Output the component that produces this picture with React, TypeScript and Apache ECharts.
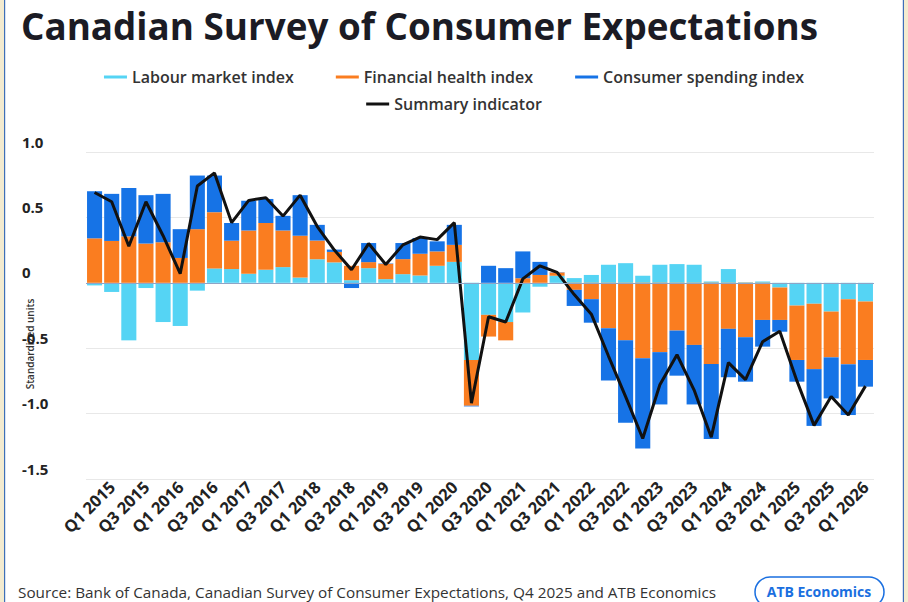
import React, { useEffect, useRef } from "react";
import * as echarts from "echarts";

const quarters = [
  "Q4 2014",
  "Q1 2015", "Q2 2015", "Q3 2015", "Q4 2015",
  "Q1 2016", "Q2 2016", "Q3 2016", "Q4 2016",
  "Q1 2017", "Q2 2017", "Q3 2017", "Q4 2017",
  "Q1 2018", "Q2 2018", "Q3 2018", "Q4 2018",
  "Q1 2019", "Q2 2019", "Q3 2019", "Q4 2019",
  "Q1 2020", "Q2 2020", "Q3 2020", "Q4 2020",
  "Q1 2021", "Q2 2021", "Q3 2021", "Q4 2021",
  "Q1 2022", "Q2 2022", "Q3 2022", "Q4 2022",
  "Q1 2023", "Q2 2023", "Q3 2023", "Q4 2023",
  "Q1 2024", "Q2 2024", "Q3 2024", "Q4 2024",
  "Q1 2025", "Q2 2025", "Q3 2025", "Q4 2025",
  "Q1 2026",
];

const labourMarket = [
  -0.02, -0.07, -0.44, -0.04, -0.3, -0.33, -0.06, 0.11, 0.105, 0.07,
  0.1, 0.12, 0.04, 0.18, 0.156, 0.02, 0.112, 0.028, 0.066, 0.056,
  0.13, 0.16, -0.59, -0.245, -0.3, -0.227, -0.03, 0.054, 0.036, 0.06,
  0.138, 0.15, 0.054, 0.138, 0.143, 0.138, 0.01, 0.105, 0.004, 0.01,
  -0.036, -0.174, -0.16, -0.22, -0.125, -0.143,
];

const financialHealth = [
  0.34, 0.32, 0.355, 0.3, 0.31, 0.19, 0.41, 0.43, 0.217, 0.33,
  0.357, 0.28, 0.32, 0.143, 0.08, 0.11, 0.046, 0.117, 0.115, 0.166,
  0.11, 0.13, -0.35, -0.166, -0.14, 0.035, 0.06, 0.025, -0.054, -0.125,
  -0.347, -0.44, -0.577, -0.53, -0.365, -0.475, -0.62, -0.352, -0.416, -0.284,
  -0.248, -0.416, -0.5, -0.35, -0.498, -0.447,
];

const consumerSpending = [
  0.36, 0.36, 0.37, 0.37, 0.37, 0.22, 0.41, 0.28, 0.135, 0.227,
  0.184, 0.112, 0.31, 0.12, 0.018, -0.04, 0.146, 0.003, 0.123, 0.12,
  0.077, 0.153, -0.005, 0.13, 0.112, 0.205, 0.1, 0.002, -0.123, -0.18,
  -0.4, -0.63, -0.69, -0.4, -0.345, -0.455, -0.575, -0.37, -0.34, -0.204,
  -0.09, -0.166, -0.434, -0.314, -0.388, -0.204,
];

const summaryIndicator = [
  0.69, 0.62, 0.28, 0.62, 0.36, 0.07, 0.74, 0.84, 0.46, 0.63,
  0.65, 0.51, 0.67, 0.43, 0.25, 0.1, 0.3, 0.14, 0.29, 0.35,
  0.33, 0.46, -0.92, -0.26, -0.3, 0.03, 0.13, 0.08, -0.09, -0.24,
  -0.56, -0.87, -1.19, -0.78, -0.55, -0.82, -1.18, -0.61, -0.74, -0.45,
  -0.37, -0.75, -1.09, -0.87, -1.01, -0.79,
];

const yTicks = { min: -1.5, max: 1.0, interval: 0.5 };

const COLORS = {
  labour: "#55d4f4",
  financial: "#fa7d20",
  spending: "#1673e6",
  summary: "#111111",
  text: "#222222",
  grid: "#e8e8e8",
  brand: "#1a6fe0",
};

export default function App() {
  const ref = useRef<HTMLDivElement>(null);

  useEffect(() => {
    document.body.style.margin = "0";
    if (!ref.current) return;
    const chart = echarts.init(ref.current, null, { renderer: "svg" });
    const font = "'Open Sans', Lato, sans-serif";
    const barBase = {
      type: "bar" as const,
      stack: "idx",
      barCategoryGap: "12%",
      emphasis: { disabled: true },
    };
    const legendText = { fontFamily: font, fontSize: 16, fontWeight: 600, color: "#333" };
    chart.setOption({
      animation: false,
      backgroundColor: "#ffffff",
      textStyle: { fontFamily: font },
      title: {
        text: "Canadian Survey of Consumer Expectations",
        left: 16,
        top: 2,
        textStyle: {
          fontFamily: font,
          fontWeight: 700,
          fontSize: 36.8,
          color: "#1b1b24",
        },
      },
      legend: [
        {
          data: ["Labour market index", "Financial health index", "Consumer spending index"],
          top: 64,
          left: "center",
          itemWidth: 23,
          itemHeight: 3,
          itemGap: 42,
          icon: "rect",
          textStyle: legendText,
        },
        {
          data: ["Summary indicator"],
          top: 91,
          left: "center",
          itemWidth: 23,
          itemHeight: 3,
          icon: "rect",
          textStyle: legendText,
        },
      ],
      grid: { left: 86, right: 34, top: 152, bottom: 123 },
      xAxis: {
        type: "category",
        data: quarters,
        axisLine: { show: false },
        axisTick: { show: false },
        splitLine: { show: false },
        axisLabel: {
          interval: (index: number) => index % 2 === 1,
          rotate: 45,
          margin: 5,
          fontFamily: font,
          fontWeight: 700,
          fontSize: 16.5,
          color: COLORS.text,
        },
      },
      yAxis: {
        type: "value",
        min: yTicks.min,
        max: yTicks.max,
        interval: yTicks.interval,
        axisLine: { show: false },
        axisTick: { show: false },
        splitLine: { lineStyle: { color: COLORS.grid, width: 1 } },
        axisLabel: {
          align: "left",
          verticalAlign: "bottom",
          margin: 64,
          padding: [0, 0, 3, 0],
          fontFamily: font,
          fontWeight: 700,
          fontSize: 15,
          color: COLORS.text,
          formatter: (v: number) => (v === 0 ? "0" : v.toFixed(1)),
        },
      },
      series: [
        {
          ...barBase,
          name: "Labour market index",
          data: labourMarket,
          itemStyle: { color: COLORS.labour },
          markLine: {
            silent: true,
            symbol: "none",
            label: { show: false },
            lineStyle: { color: "#8ea4c6", width: 1, type: "solid" },
            data: [{ yAxis: 0 }],
            z: 10,
          },
        },
        {
          ...barBase,
          name: "Financial health index",
          data: financialHealth,
          itemStyle: { color: COLORS.financial },
        },
        {
          ...barBase,
          name: "Consumer spending index",
          data: consumerSpending,
          itemStyle: { color: COLORS.spending },
        },
        {
          type: "line",
          name: "Summary indicator",
          data: summaryIndicator,
          symbol: "none",
          z: 5,
          itemStyle: { color: COLORS.summary },
          lineStyle: { color: COLORS.summary, width: 3 },
          emphasis: { disabled: true },
        },
      ],
      graphic: [
        {
          type: "text",
          x: 30,
          y: 344,
          rotation: Math.PI / 2,
          style: {
            text: "Standardized units",
            fill: "#333",
            font: `600 10px ${font}`,
            align: "center",
            verticalAlign: "middle",
          },
        },
        {
          type: "text",
          x: 18,
          y: 592,
          style: {
            text: "Source: Bank of Canada, Canadian Survey of Consumer Expectations, Q4 2025 and ATB Economics",
            fill: "#333",
            font: `400 15.3px ${font}`,
            verticalAlign: "middle",
          },
        },
        {
          type: "rect",
          shape: { x: 755, y: 577, width: 129, height: 30, r: 15 },
          style: { fill: "#fff", stroke: COLORS.brand, lineWidth: 1.5 },
        },
        {
          type: "text",
          x: 819,
          y: 591,
          style: {
            text: "ATB Economics",
            fill: COLORS.brand,
            font: `700 14px ${font}`,
            align: "center",
            verticalAlign: "middle",
          },
        },
        { type: "rect", shape: { x: 0, y: 0, width: 4, height: 602 }, style: { fill: "#f3ebd0" } },
        { type: "rect", shape: { x: 4, y: 0, width: 1.2, height: 602 }, style: { fill: "#3d6fb8" } },
        { type: "rect", shape: { x: 904, y: 0, width: 4, height: 602 }, style: { fill: "#f3ebd0" } },
        { type: "rect", shape: { x: 902.8, y: 0, width: 1.2, height: 602 }, style: { fill: "#3d6fb8" } },
      ],
    });
    return () => chart.dispose();
  }, []);

  return (
    <div
      ref={ref}
      style={{ position: "fixed", left: 0, top: 0, width: 908, height: 602 }}
    />
  );
}
